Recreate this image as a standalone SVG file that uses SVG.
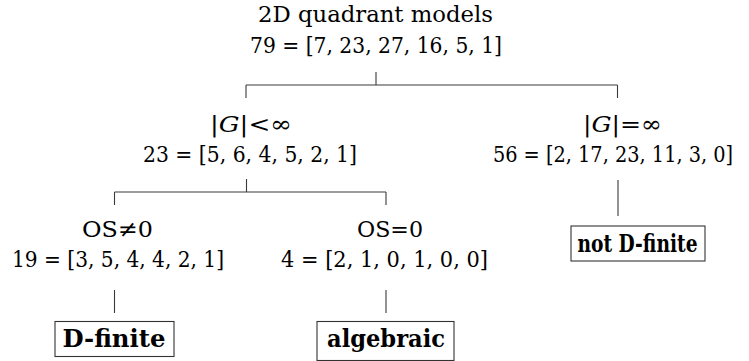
<svg xmlns="http://www.w3.org/2000/svg" width="749" height="361" viewBox="0 0 749 361">
<style>
  text { font-family: "DejaVu Serif", serif; font-size: 23px; fill: #000; text-anchor: middle; }
  .b { font-weight: bold; font-size: 24px; }
  .it { font-style: italic; }
  .edge { stroke: #3a3a3a; stroke-width: 1.1; fill: none; }
  .box { stroke: #333; stroke-width: 1.1; fill: #fff; }
</style>
<rect width="749" height="361" fill="#fff"/>
<g id="connectors">
  <path class="edge" d="M376,72 V85 M246,85 H617.5 M246,85 V98 M617.5,85 V98"/>
  <path class="edge" d="M246.5,179 V192 M114.5,192 H386 M114.5,192 V205 M386,192 V205"/>
  <path class="edge" d="M618,180 V216"/>
  <path class="edge" d="M114.5,290 V313"/>
  <path class="edge" d="M386,290 V313"/>
</g>
<g id="root">
  <text x="375.5" y="22" textLength="235" lengthAdjust="spacingAndGlyphs">2D quadrant models</text>
  <text x="376" y="53" textLength="252" lengthAdjust="spacingAndGlyphs">79 = [7, 23, 27, 16, 5, 1]</text>
</g>
<g id="finite-group">
  <text x="251" y="132" textLength="82" lengthAdjust="spacingAndGlyphs">|<tspan class="it">G</tspan>|&lt;∞</text>
  <text x="250" y="162" textLength="214" lengthAdjust="spacingAndGlyphs">23 = [5, 6, 4, 5, 2, 1]</text>
</g>
<g id="infinite-group">
  <text x="622.5" y="132" textLength="79" lengthAdjust="spacingAndGlyphs">|<tspan class="it">G</tspan>|=∞</text>
  <text transform="translate(613,162) scale(0.84,1)" x="0" y="0" textLength="286" lengthAdjust="spacingAndGlyphs">56 = [2, 17, 23, 11, 3, 0]</text>
</g>
<g id="os-nonzero">
  <text x="117.5" y="237" textLength="71" lengthAdjust="spacingAndGlyphs">OS≠0</text>
  <text x="118" y="267" textLength="212" lengthAdjust="spacingAndGlyphs">19 = [3, 5, 4, 4, 2, 1]</text>
</g>
<g id="os-zero">
  <text x="390" y="237" textLength="66" lengthAdjust="spacingAndGlyphs">OS=0</text>
  <text x="384.5" y="267" textLength="207" lengthAdjust="spacingAndGlyphs">4 = [2, 1, 0, 1, 0, 0]</text>
</g>
<g id="d-finite">
  <rect class="box" x="55" y="321.5" width="119" height="35"/>
  <text class="b" x="114" y="347" textLength="103" lengthAdjust="spacingAndGlyphs">D-finite</text>
</g>
<g id="algebraic">
  <rect class="box" x="317" y="321.5" width="137" height="39"/>
  <text class="b" x="386" y="347" textLength="118" lengthAdjust="spacingAndGlyphs">algebraic</text>
</g>
<g id="not-d-finite">
  <rect class="box" x="571" y="226" width="134" height="35"/>
  <text class="b" x="637.5" y="252" textLength="120" lengthAdjust="spacingAndGlyphs">not D-finite</text>
</g>
</svg>
